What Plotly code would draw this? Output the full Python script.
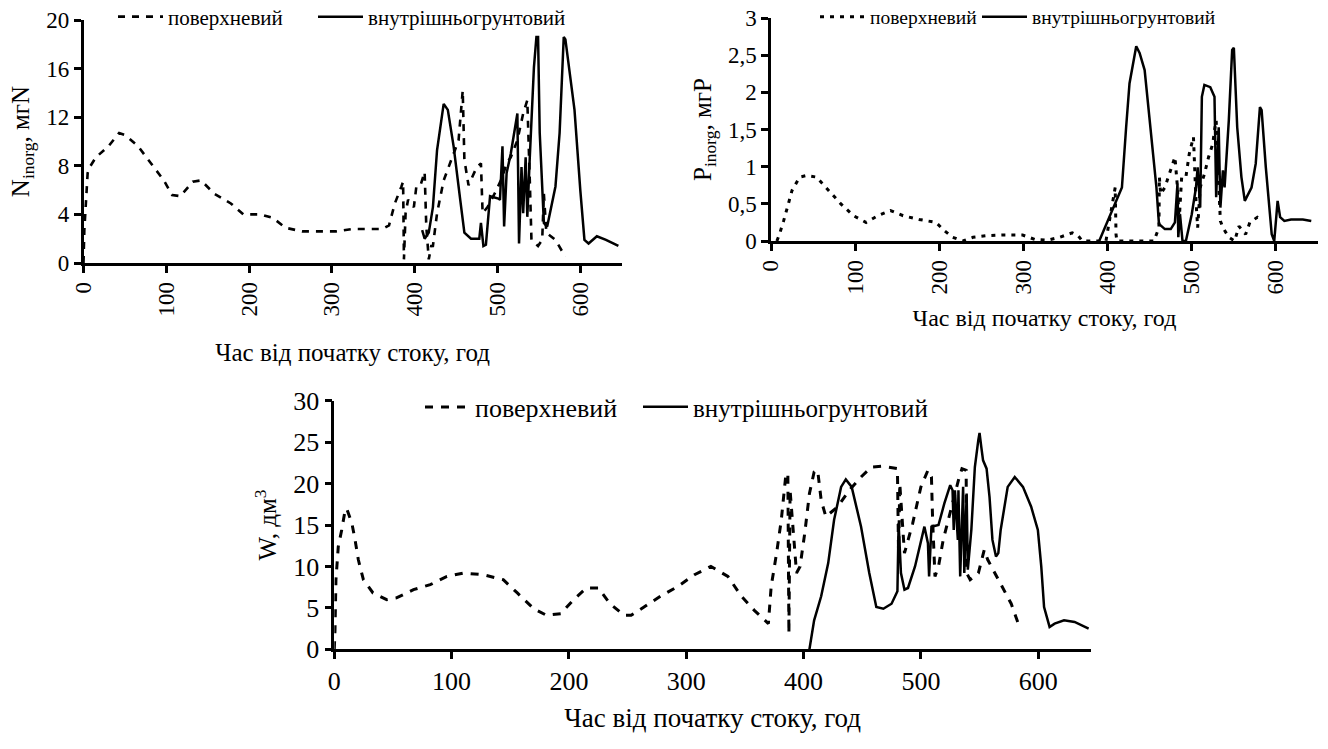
import plotly.graph_objects as go

# ---------------- N inorg (top-left) ----------------
n_surf_x = [0, 1, 5, 7.6, 15, 30, 43, 51, 66, 81, 97, 107, 117, 132, 142, 158, 178, 193, 214, 229, 244, 264,
            305, 325, 361, 369, 376, 384, 386, 387, 389, 392, 399, 402, 407, 412, 414, 417, 420, 422, 427, 435,
            445, 453, 458, 460, 465, 475, 480, 482, 488, 498, 506, 511, 516, 524, 531, 536, 539, 541, 549, 554,
            556, 559, 570, 582]
n_surf_y = [0, 2.7, 7.4, 7.9, 8.7, 9.6, 10.7, 10.5, 9.6, 8.2, 6.8, 5.6, 5.5, 6.7, 6.8, 5.7, 4.9, 4.0, 4.0, 3.7,
            2.9, 2.6, 2.6, 2.8, 2.8, 3.1, 4.9, 6.3, 6.7, 0.3, 4.1, 5.2, 4.6, 6.3, 6.4, 7.5, 3.0, 0.3, 1.4, 1.4,
            4.1, 6.8, 8.7, 10.1, 14.2, 8.5, 6.4, 7.9, 8.2, 4.1, 4.6, 5.9, 7.1, 8.2, 8.7, 10.1, 12.3, 13.4, 6.8,
            1.9, 1.4, 1.9, 5.7, 2.5, 1.9, 0.5]
n_sub_x = [409, 412, 417, 422, 427, 435, 440, 447, 455, 460, 468, 478, 480, 483, 486, 491, 501, 503, 506, 508,
           511, 516, 524, 526, 529, 531, 534, 536, 539, 544, 547, 549, 551, 556, 560, 570, 575, 580, 582, 593,
           600, 605, 610, 620, 631, 646]
n_sub_y = [2.7, 2.0, 2.5, 4.6, 9.3, 13.1, 12.6, 9.6, 5.2, 2.5, 2.0, 2.0, 3.3, 1.4, 1.5, 5.5, 5.3, 5.2, 9.6, 3.0,
           7.4, 9.0, 12.3, 1.6, 7.9, 4.1, 8.7, 3.8, 8.7, 16.1, 18.6, 18.6, 10.7, 3.3, 3.0, 6.3, 10.7, 18.6, 18.4,
           12.6, 6.0, 1.9, 1.6, 2.2, 1.9, 1.4]

# ---------------- P inorg (top-right) ----------------
p_surf_x = [7, 10, 15, 25, 34, 42, 54, 69, 83, 98, 113, 127, 142, 157, 176, 196, 206, 216, 228, 240, 255, 275,
            299, 314, 328, 343, 358, 365, 370, 398, 402, 407, 409, 410, 411, 455, 461, 461.5, 463, 468, 475, 480,
            483, 485, 488, 493, 497, 502, 505, 507, 510, 515, 520, 525, 527, 529, 532, 534, 537, 544, 551, 556,
            564, 569, 578, 583]
p_surf_y = [0, 0.09, 0.27, 0.68, 0.86, 0.88, 0.86, 0.68, 0.5, 0.34, 0.25, 0.34, 0.41, 0.34, 0.29, 0.25, 0.14,
            0.05, 0, 0.05, 0.07, 0.08, 0.08, 0.02, 0.01, 0.05, 0.11, 0.07, 0, 0, 0.27, 0.63, 0.72, 0.09, 0, 0,
            0.18, 0.86, 0.63, 0.72, 0.95, 1.13, 0.72, 0.27, 0.86, 0.86, 1.17, 1.4, 0.54, 0.18, 0.72, 0.9, 1.13,
            1.31, 1.49, 1.62, 0.77, 0.27, 0.18, 0.05, 0, 0.2, 0.09, 0.25, 0.32, 0.29]
p_sub_x = [390, 402, 414, 417, 422, 426, 434, 438, 444, 451, 458, 461, 468, 475, 480, 483, 484, 486, 489, 493,
           500, 505, 507, 510, 512, 515, 522, 527, 529, 532, 534, 537, 539, 544, 548, 550, 554, 559, 563, 571,
           576, 581, 583, 588, 595, 598, 602, 605, 610, 618, 632, 642]
p_sub_y = [0, 0.32, 0.63, 0.72, 1.53, 2.12, 2.62, 2.53, 2.3, 1.53, 0.72, 0.23, 0.16, 0.16, 0.25, 0.77, 0.05,
           0.36, 0, 0, 0.36, 0.72, 0.99, 0.45, 1.94, 2.1, 2.07, 1.94, 0.59, 1.53, 0.45, 0.95, 0.72, 1.62, 2.57,
           2.6, 1.53, 0.86, 0.54, 0.72, 1.04, 1.8, 1.76, 0.99, 0.09, 0, 0.54, 0.32, 0.27, 0.29, 0.29, 0.27]

# ---------------- W (bottom) ----------------
w_surf_x = [0, 0.6, 1.4, 3.4, 6.3, 9, 10.5, 15, 17.7, 20.5, 24.8, 33, 44.7, 53, 67.5, 81.8, 96, 110, 127, 144,
            156, 170, 181, 193, 204, 215, 225, 235, 247, 253, 264, 278, 293, 307, 321, 335.5, 347, 358, 370,
            372.4, 377, 381, 385, 386.6, 387.5, 388.5, 394, 397, 401, 405, 409, 412, 415, 419, 429, 439, 449,
            458, 468, 480, 481, 482, 486, 493, 500, 506, 509, 510, 512, 515, 519, 526, 532, 535, 538.6, 539,
            542, 549, 554, 557, 563, 568.5, 577, 584]
w_surf_y = [0, 2.3, 8.4, 12.4, 14.4, 16.6, 17, 15.2, 13.2, 10.8, 8.4, 6.8, 6.0, 6.2, 7.2, 7.8, 8.8, 9.2, 9.0,
            8.4, 6.8, 4.9, 4.1, 4.3, 6.0, 7.4, 7.4, 5.5, 4.1, 4.1, 5.1, 6.4, 7.6, 9.0, 10.0, 8.8, 6.4, 4.7, 3.1,
            7.6, 11.6, 15.6, 21.2, 21.2, 1.9, 19.2, 9.2, 10, 14, 18.8, 21.4, 21.6, 18, 16, 17.2, 19.2, 20.8, 22,
            22.1, 21.8, 11.0, 20.0, 11.6, 15.2, 19.6, 21.6, 20.8, 15.6, 8.8, 10, 13.2, 17.2, 20.4, 21.8, 21.6,
            9.2, 8.4, 9.2, 12, 10.8, 9.2, 7.6, 5.5, 2.7]
w_sub_x = [405, 409, 415, 421, 426, 432, 436, 441, 449, 456, 462, 468, 475, 480, 481, 483, 486, 489, 495, 503,
           506, 507, 509, 515, 520, 525, 527, 528, 529, 531.5, 532, 533.5, 536, 537, 539, 540, 543, 546, 549,
           550, 551.5, 553, 556, 558.5, 561, 564, 566, 568, 574, 580, 587, 594, 599.7, 602.6, 605, 609.7, 614,
           622, 631, 636.6, 643]
w_sub_y = [0, 3.5, 6.4, 10.4, 15.6, 19.6, 20.5, 19.6, 14.8, 9.2, 5.1, 4.9, 5.5, 7, 15.2, 9.2, 7.2, 7.4, 10,
           14.8, 12.8, 8.8, 14.8, 15, 17.6, 19.8, 19.2, 14.4, 19.2, 13.2, 19.2, 8.8, 19.6, 9.2, 18.8, 9.6, 14.4,
           22, 25.3, 26.1, 24.4, 22.8, 21.8, 18.4, 13.2, 11.2, 11.6, 14.4, 19.6, 20.8, 19.6, 17.2, 14.4, 10,
           5.1, 2.7, 3.1, 3.5, 3.3, 2.9, 2.5]

x_ticks = [0, 100, 200, 300, 400, 500, 600]
n_ticks = [0, 4, 8, 12, 16, 20]
p_ticks = [0, 0.5, 1, 1.5, 2, 2.5, 3]
p_ticktext = ["0", "0,5", "1", "1,5", "2", "2,5", "3"]
w_ticks = [0, 5, 10, 15, 20, 25, 30]

name_surf = "поверхневий"
name_sub = "внутрішньогрунтовий"
x_title = "Час від початку стоку, год"

FONT = "Liberation Serif, Times New Roman, serif"
W, H = 1328, 749


def px(v):
    return v / W


def py(v):
    return 1 - v / H


def f(size):
    return dict(family=FONT, size=size, color="black")


fig = go.Figure()

fig.add_trace(go.Scatter(x=n_surf_x, y=n_surf_y, mode="lines", name=name_surf, xaxis="x", yaxis="y",
                         legend="legend", line=dict(color="black", width=2.6, dash="7px,7px")))
fig.add_trace(go.Scatter(x=n_sub_x, y=n_sub_y, mode="lines", name=name_sub, xaxis="x", yaxis="y",
                         legend="legend4", line=dict(color="black", width=2.5)))
fig.add_trace(go.Scatter(x=p_surf_x, y=p_surf_y, mode="lines", name=name_surf, xaxis="x2", yaxis="y2",
                         legend="legend2", line=dict(color="black", width=3, dash="4px,6px")))
fig.add_trace(go.Scatter(x=p_sub_x, y=p_sub_y, mode="lines", name=name_sub, xaxis="x2", yaxis="y2",
                         legend="legend5", line=dict(color="black", width=2.5)))
fig.add_trace(go.Scatter(x=w_surf_x, y=w_surf_y, mode="lines", name=name_surf, xaxis="x3", yaxis="y3",
                         legend="legend3", line=dict(color="black", width=3, dash="8px,8px")))
fig.add_trace(go.Scatter(x=w_sub_x, y=w_sub_y, mode="lines", name=name_sub, xaxis="x3", yaxis="y3",
                         legend="legend6", line=dict(color="black", width=2.5)))
for tr in fig.data:
    tr.showlegend = True

common_axis = dict(showgrid=False, zeroline=False, showline=True, linecolor="black", linewidth=2.5,
                   ticks="outside", ticklen=7, tickwidth=2.5, tickcolor="black", automargin=False,
                   ticklabeloverflow="allow")


def leg(xp, yp, size, anchor="middle"):
    return dict(orientation="h", x=px(xp), y=py(yp), xanchor="left", yanchor=anchor, visible=True,
                bgcolor="rgba(0,0,0,0)", font=f(size), itemwidth=45)


fig.update_layout(
    width=W, height=H, autosize=False, showlegend=True,
    margin=dict(l=0, r=0, t=0, b=0, autoexpand=False),
    paper_bgcolor="white", plot_bgcolor="white",
    font=f(20),
    xaxis=dict(domain=[px(83.5), px(621.7)], range=[0, 650], anchor="y", tickvals=x_ticks, tickangle=-90,
               tickfont=f(23), title=dict(text=x_title, font=f(25), standoff=29), **common_axis),
    yaxis=dict(domain=[py(263), py(20)], range=[0, 20], anchor="x", tickvals=n_ticks,
               tickfont=f(23), title=dict(text="N<sub>inorg</sub>, мгN", font=f(25), standoff=10),
               **common_axis),
    xaxis2=dict(domain=[px(771), px(1318)], range=[0, 650], anchor="y2", tickvals=x_ticks, tickangle=-90,
                tickfont=f(23), title=dict(text=x_title, font=f(24), standoff=16), **common_axis),
    yaxis2=dict(domain=[py(241), py(18)], range=[0, 3], anchor="x2", tickvals=p_ticks, ticktext=p_ticktext,
                tickfont=f(23), title=dict(text="P<sub>inorg</sub>, мгP", font=f(25), standoff=10),
                **common_axis),
    xaxis3=dict(domain=[px(334.3), px(1091)], range=[0, 645], anchor="y3", tickvals=x_ticks,
                tickfont=f(26), title=dict(text=x_title, font=f(27), standoff=13), **common_axis),
    yaxis3=dict(domain=[py(649.3), py(400.7)], range=[0, 30], anchor="x3", tickvals=w_ticks,
                tickfont=f(26), title=dict(text="W, дм<sup>3</sup>", font=f(25), standoff=10),
                **common_axis),
    legend=leg(113, 17, 21),
    legend4=leg(313, 17, 21),
    legend2=leg(815, 17, 19.5),
    legend5=leg(977, 17, 19.5),
    legend3=leg(420, 407, 26),
    legend6=leg(638, 407, 25),
)

fig.write_html("out.html", config={"displayModeBar": False},
               post_script="document.body.style.margin='0px';")
